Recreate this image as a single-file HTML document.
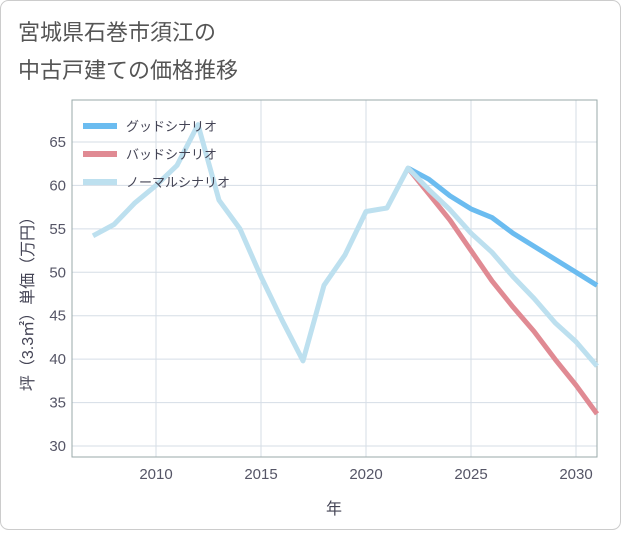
<!DOCTYPE html>
<html><head><meta charset="utf-8"><style>
body{margin:0;background:#fff;}
text{font-family:"Liberation Sans","Noto Sans CJK JP",sans-serif;}
</style></head><body>
<svg id="chart" width="621" height="530">
<rect x="0.5" y="0.5" width="620" height="529" rx="8" fill="#fff" stroke="#ccc"/>
<text x="18" y="40" font-size="22" fill="#555">宮城県石巻市須江の</text>
<text x="18" y="78" font-size="22" fill="#555">中古戸建ての価格推移</text>
<g id="grid"></g>
<g id="series"></g>
<g id="legend"></g>
<text x="334" y="514" font-size="16" fill="#445" text-anchor="middle">年</text>
<text transform="translate(33,300) rotate(-90)" font-size="16" fill="#445" text-anchor="middle">坪（3.3㎡）単価（万円）</text>
</svg>
<script>
const years=[2007,2008,2009,2010,2011,2012,2013,2014,2015,2016,2017,2018,2019,2020,2021,2022,2023,2024,2025,2026,2027,2028,2029,2030,2031];
const normal=[54.2,55.5,58,60,62.3,67,58.3,55,49.5,44.5,39.8,48.5,52,57,57.4,62,59.5,57.2,54.5,52.3,49.5,47,44.2,42,39.2];
const futureYears=[2022,2023,2024,2025,2026,2027,2028,2029,2030,2031];
const good=[62,60.7,58.8,57.3,56.3,54.5,53,51.5,50,48.5];
const bad=[62,59,56,52.5,49,46,43.2,40,37,33.7];
const xTicks=[2010,2015,2020,2025,2030];
const yTicks=[30,35,40,45,50,55,60,65];
const L=72,R=597,T=100,B=457;
const X=y=>156+(y-2010)*21;
const Y=v=>446-(v-30)*(304/35);
const ns='http://www.w3.org/2000/svg';
function mk(p,t,a){const e=document.createElementNS(ns,t);for(const k in a)e.setAttribute(k,a[k]);p.appendChild(e);return e;}
const g=document.getElementById('grid');
for(const t of xTicks){const l=mk(g,'line',{x1:X(t),x2:X(t),y1:T,y2:B,stroke:'#d5dde6'});

const tx=mk(g,'text',{x:X(t),y:479,'font-size':15,fill:'#556','text-anchor':'middle'});tx.textContent=t;
}
for(const t of yTicks){const l=mk(g,'line',{x1:L,x2:R,y1:Y(t),y2:Y(t),stroke:'#d5dde6'});

const tx=mk(g,'text',{x:66,y:Y(t)+5,'font-size':15,fill:'#556','text-anchor':'end'});tx.textContent=t;
}
const ax=mk(g,'rect',{x:L,y:T,width:R-L,height:B-T,fill:'none',stroke:'#9aa'});

const s=document.getElementById('series');
function line(xs,vs,c,n){const p=mk(s,'polyline',{points:xs.map((x,i)=>X(x)+','+Y(vs[i])).join(' '),fill:'none',stroke:c,'stroke-width':5,'stroke-linejoin':'round'});
}
line(futureYears,good,'#6bbcf0','good-scenario-line');
line(futureYears,bad,'#e08a93','bad-scenario-line');
line(years,normal,'#bde0ef','normal-scenario-line');
const lg=document.getElementById('legend');
const items=[['グッドシナリオ','#6bbcf0'],['バッドシナリオ','#e08a93'],['ノーマルシナリオ','#bde0ef']];
items.forEach((it,i)=>{const y=126+i*28;
const l=mk(lg,'line',{x1:83,x2:117,y1:y,y2:y,stroke:it[1],'stroke-width':6});

const t=mk(lg,'text',{x:126,y:y+5,'font-size':13,fill:'#445'});t.textContent=it[0];
});
</script>
</body></html>
